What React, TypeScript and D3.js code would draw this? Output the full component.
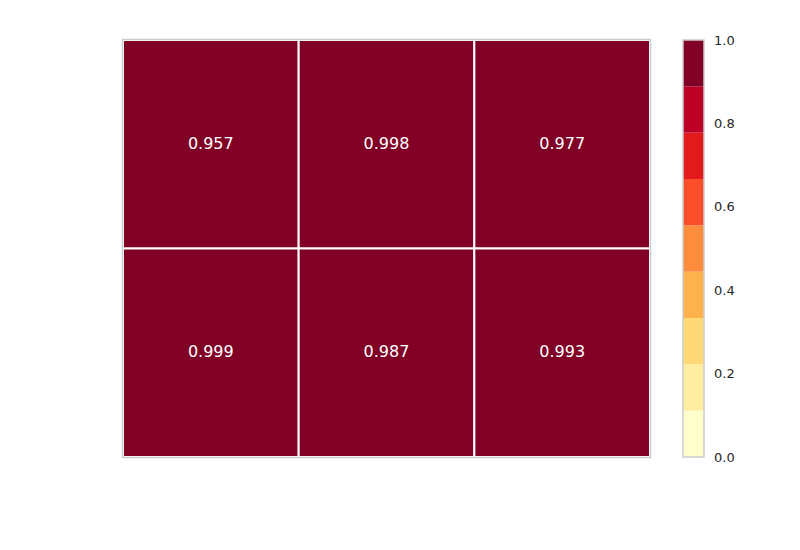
import React from "react";
import * as d3 from "d3";

const rowLabels = ["r0", "r1"];
const colLabels = ["c0", "c1", "c2"];
const values = [
  [0.957, 0.998, 0.977],
  [0.999, 0.987, 0.993],
];
const binColors = ["#ffffcc", "#ffeda0", "#fed976", "#feb24c", "#fd8d3c", "#fc4e2a", "#e31a1c", "#bd0026", "#800026"];
const cbTicks = [0, 0.2, 0.4, 0.6, 0.8, 1.0];

export default function App() {
  const W = 800, H = 550;
  const left = 123, right = 650, top = 40, bottom = 457;
  const x = d3.scaleBand().domain(colLabels).range([left, right]);
  const y = d3.scaleBand().domain(rowLabels).range([top, bottom]);
  const color = d3.scaleQuantize<string>().domain([0, 1]).range(binColors);
  const cbX = 683, cbW = 21;
  const cbY = d3.scaleLinear().domain([0, 1]).range([bottom, top]);
  const bins = binColors.map((c, i) => ({ c, lo: i / binColors.length, hi: (i + 1) / binColors.length }));
  const font = "DejaVu Sans, sans-serif";
  return (
    <svg width={W} height={H} style={{ position: "absolute", left: 0, top: 0, background: "#fff" }}>
      {values.map((row, ri) =>
        row.map((v, ci) => (
          <g key={`${ri}-${ci}`}>
            <rect
              x={x(colLabels[ci])!}
              y={y(rowLabels[ri])!}
              width={x.bandwidth()}
              height={y.bandwidth()}
              fill={color(Math.min(v, 0.9999))}
              stroke="#ffffff"
              strokeWidth={2}
            />
            <text
              x={x(colLabels[ci])! + x.bandwidth() / 2}
              y={y(rowLabels[ri])! + y.bandwidth() / 2 - 1}
              textAnchor="middle"
              dominantBaseline="central"
              fill="#ffffff"
              fontFamily={font}
              fontSize={16}
            >
              {v.toFixed(3)}
            </text>
          </g>
        ))
      )}
      <rect x={left - 0.5} y={top - 0.5} width={right - left + 1} height={bottom - top + 1} fill="none" stroke="#cccccc" strokeWidth={1.5} />
      {bins.map((b, i) => (
        <rect key={i} x={cbX} y={cbY(b.hi)} width={cbW} height={cbY(b.lo) - cbY(b.hi)} fill={b.c} />
      ))}
      <rect x={cbX} y={top} width={cbW} height={bottom - top} fill="none" stroke="#cccccc" strokeWidth={1.5} />
      {cbTicks.map((t) => (
        <text key={t} x={714} y={cbY(t)} dominantBaseline="central" fill="#262626" fontFamily={font} fontSize={13}>
          {t.toFixed(1)}
        </text>
      ))}
    </svg>
  );
}
